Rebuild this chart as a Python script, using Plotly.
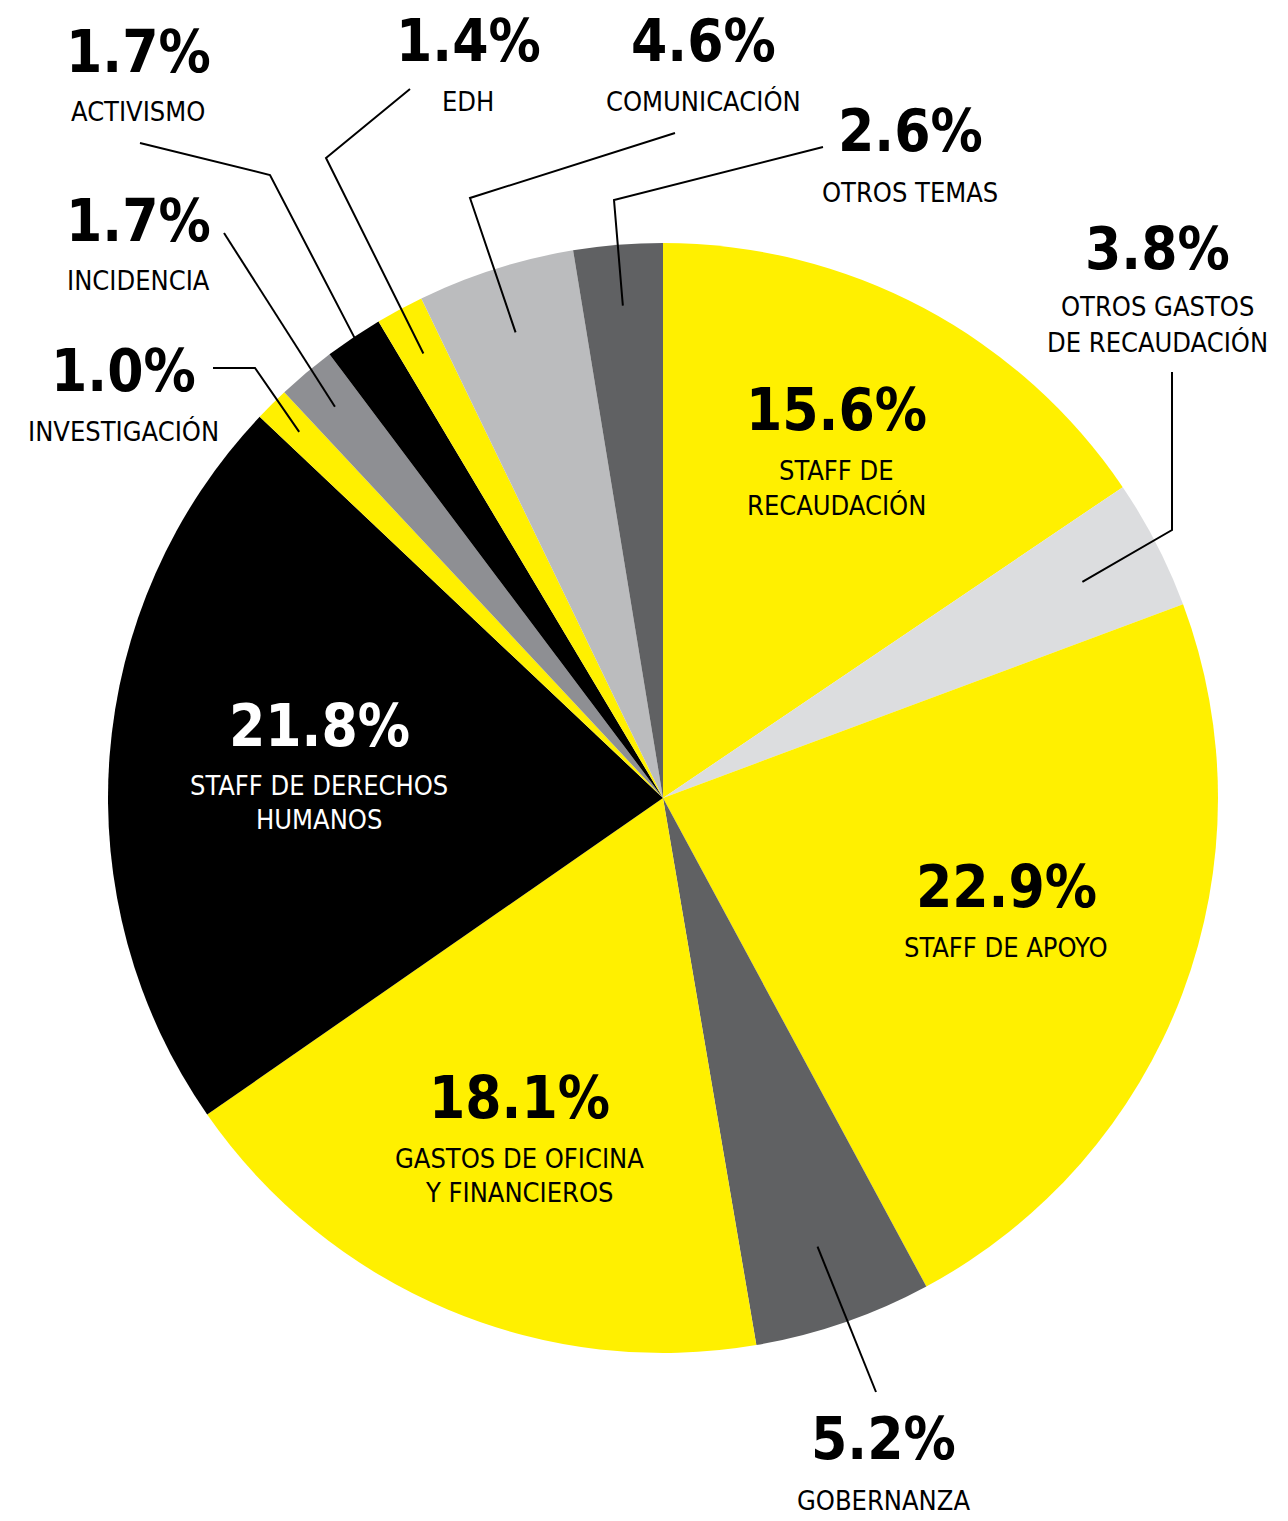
import math
import plotly.graph_objects as go

# ---------------- data ----------------
categories = [
    "STAFF DE RECAUDACIÓN", "OTROS GASTOS DE RECAUDACIÓN", "STAFF DE APOYO",
    "GOBERNANZA", "GASTOS DE OFICINA Y FINANCIEROS", "STAFF DE DERECHOS HUMANOS",
    "INVESTIGACIÓN", "INCIDENCIA", "ACTIVISMO", "EDH", "COMUNICACIÓN", "OTROS TEMAS",
]
values = [15.6, 3.8, 22.9, 5.2, 18.1, 21.8, 1.0, 1.7, 1.7, 1.4, 4.6, 2.6]
pct_labels = ["15.6%", "3.8%", "22.9%", "5.2%", "18.1%", "21.8%",
              "1.0%", "1.7%", "1.7%", "1.4%", "4.6%", "2.6%"]
label_lines = [
    ["STAFF DE", "RECAUDACIÓN"],
    ["OTROS GASTOS", "DE RECAUDACIÓN"],
    ["STAFF DE APOYO"],
    ["GOBERNANZA"],
    ["GASTOS DE OFICINA", "Y FINANCIEROS"],
    ["STAFF DE DERECHOS", "HUMANOS"],
    ["INVESTIGACIÓN"],
    ["INCIDENCIA"],
    ["ACTIVISMO"],
    ["EDH"],
    ["COMUNICACIÓN"],
    ["OTROS TEMAS"],
]

# ---------------- style / layout ----------------
YELLOW = "#FFF000"
BLACK = "#000000"
DARK = "#606163"
MID = "#8E8F93"
LIGHT = "#BBBCBE"
PALE = "#DCDDDF"
colors = [YELLOW, PALE, YELLOW, DARK, YELLOW, BLACK, YELLOW, MID, BLACK, YELLOW, LIGHT, DARK]

PAGE_OFF = 8                     # default body margin of the html page
W, H = 1288 - PAGE_OFF, 1521 - PAGE_OFF
CX, CY, R = 663, 798, 555        # screen pixels
FONT = "DejaVu Sans Condensed, Liberation Sans Narrow, sans-serif"
PCT_SIZE = 58
LBL_SIZE = 27

# label placement (screen pixels): pct centre, first label line centre, line gap, text colour
placement = {
    0: ((836, 410), 471, 34, BLACK),
    1: ((1157, 249), 307, 35, BLACK),
    2: ((1006, 887), 947, 34, BLACK),
    3: ((883, 1439), 1500, 34, BLACK),
    4: ((519, 1098), 1158, 34, BLACK),
    5: ((319, 726), 785, 34, "#FFFFFF"),
    6: ((123, 371), 431, 34, BLACK),
    7: ((138, 221), 281, 34, BLACK),
    8: ((138, 52), 112, 34, BLACK),
    9: ((468, 41), 102, 34, BLACK),
    10: ((703, 41), 101, 34, BLACK),
    11: ((910, 131), 192, 34, BLACK),
}

# leader lines: radius fraction of the inner end on the slice's mid angle, then elbow points (screen px)
leaders = {
    1: (0.85, [(1172, 530), (1172, 372)]),
    3: (0.855, [(876, 1392)]),
    6: (0.93, [(255, 368), (213, 368)]),
    7: (0.92, [(224, 233)]),
    8: (0.99, [(270, 175), (140, 143)]),
    9: (0.91, [(326, 158), (410, 89)]),
    10: (0.88, [(470, 198), (675, 133)]),
    11: (0.89, [(614, 200), (823, 147)]),
}


def px(x):
    return (x - PAGE_OFF) / W


def py(y):
    return 1 - (y - PAGE_OFF) / H


total = sum(values)
mids = []
cum = 0.0
for v in values:
    mids.append((cum + v / 2) / total * 360.0)
    cum += v


def slice_point(i, rfrac):
    a = math.radians(mids[i])
    return CX + R * rfrac * math.sin(a), CY - R * rfrac * math.cos(a)


fig = go.Figure(go.Pie(
    labels=categories,
    values=values,
    sort=False,
    direction="clockwise",
    rotation=0,
    marker=dict(colors=colors, line=dict(width=0)),
    textinfo="none",
    hoverinfo="label+percent",
    showlegend=False,
    domain=dict(x=[px(CX - R), px(CX + R)], y=[py(CY + R), py(CY - R)]),
))

annotations = []
for i in range(len(values)):
    (pxx, pyy), ly, gap, col = placement[i]
    annotations.append(dict(
        x=px(pxx), y=py(pyy), xref="paper", yref="paper",
        xanchor="center", yanchor="middle", showarrow=False,
        text="<b>" + pct_labels[i] + "</b>",
        font=dict(family=FONT, size=PCT_SIZE, color=col),
    ))
    for k, line in enumerate(label_lines[i]):
        annotations.append(dict(
            x=px(pxx), y=py(ly + k * gap), xref="paper", yref="paper",
            xanchor="center", yanchor="middle", showarrow=False,
            text=line,
            font=dict(family=FONT, size=LBL_SIZE, color=col),
        ))

shapes = []
for i, (rf, pts) in leaders.items():
    x0, y0 = slice_point(i, rf)
    path = "M {:.5f} {:.5f}".format(px(x0), py(y0))
    for (x, y) in pts:
        path += " L {:.5f} {:.5f}".format(px(x), py(y))
    shapes.append(dict(type="path", path=path, xref="paper", yref="paper",
                       line=dict(color="#000000", width=2)))

fig.update_layout(
    width=W, height=H,
    margin=dict(l=0, r=0, t=0, b=0),
    paper_bgcolor="#FFFFFF",
    plot_bgcolor="#FFFFFF",
    annotations=annotations,
    shapes=shapes,
    font=dict(family=FONT),
)

fig.write_html("out.html")
